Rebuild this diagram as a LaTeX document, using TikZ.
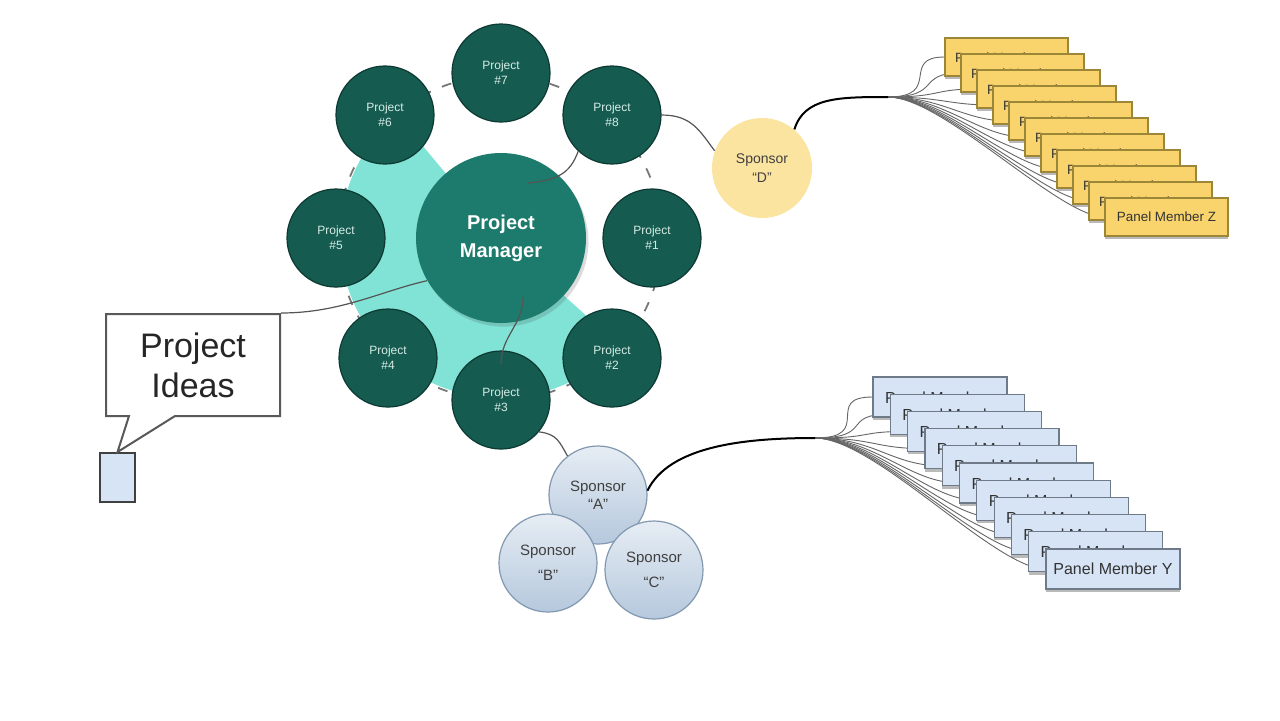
\documentclass[tikz,border=0pt]{standalone}
\usepackage{fontspec}
\setmainfont{Liberation Sans}
\usetikzlibrary{shapes.callouts, shadows}

\definecolor{projdark}{HTML}{155B50}
\definecolor{projedge}{HTML}{0C3A33}
\definecolor{pmteal}{HTML}{1C7B6C}
\definecolor{lightteal}{HTML}{80E3D5}
\definecolor{mint}{HTML}{D6ECE6}
\definecolor{sponsoryellow}{HTML}{FBE3A0}
\definecolor{boxyellow}{HTML}{F9D46C}
\definecolor{boxyedge}{HTML}{9C8637}
\definecolor{boxblue}{HTML}{D6E4F5}
\definecolor{boxbedge}{HTML}{6E7A88}
\definecolor{sponsortop}{HTML}{E6EDF4}
\definecolor{sponsorbot}{HTML}{B5C8DD}
\definecolor{sponsoredge}{HTML}{8298B0}
\definecolor{wire}{HTML}{555555}

\pgfdeclarelayer{background}
\pgfsetlayers{background,main}

\begin{document}
\begin{tikzpicture}[x=0.5pt, y=-0.5pt,
		project/.style={circle, draw=projedge, line width=0.6pt, fill=projdark, minimum size=49pt, inner sep=0pt,
			text=mint, font=\fontsize{6}{7.5}\selectfont, align=center},
		manager/.style={circle, fill=pmteal, minimum size=85pt, inner sep=0pt, text=white, align=center,
			font=\bfseries\fontsize{10}{14}\selectfont,
			drop shadow={shadow xshift=1.2pt, shadow yshift=-1.8pt, opacity=0.2, fill=black!70}},
		sponsor/.style={circle, draw=sponsoredge, line width=0.6pt, top color=sponsortop, bottom color=sponsorbot,
			minimum size=49pt, inner sep=0pt, text=black!75, font=\fontsize{7.5}{9}\selectfont, align=center},
		sponsorD/.style={circle, fill=sponsoryellow, minimum size=50pt, inner sep=0pt, text=black!75,
			font=\fontsize{7}{9.5}\selectfont, align=center},
		panelZ/.style={draw=boxyedge, line width=0.6pt, fill=boxyellow, minimum width=61.5pt, minimum height=19pt,
			inner sep=0pt, font=\fontsize{6.7}{8}\selectfont, text=black!80,
			drop shadow={shadow xshift=0pt, shadow yshift=-1.5pt, opacity=0.45, fill=black!60}},
		panelY/.style={draw=boxbedge, line width=0.6pt, fill=boxblue, minimum width=67pt, minimum height=20pt,
			inner sep=0pt, font=\fontsize{8}{9}\selectfont, text=black!80,
			drop shadow={shadow xshift=0pt, shadow yshift=-1.5pt, opacity=0.45, fill=black!60}},
		wireline/.style={draw=wire, line width=0.6pt},
		fanwire/.style={draw=black!60, line width=0.45pt}]
	% Bildbereich
	\useasboundingbox (0,0) rectangle (1280,720);
	\begin{pgfonlayer}{background}
		\fill[white] (0,0) rectangle (1280,720);
	\end{pgfonlayer}
	% Hintergrund Ring
	\fill[lightteal] (500,238) -- +(-130:160) arc[start angle=-130, end angle=-318, radius=160] -- cycle;
	\draw[wire!80, line width=0.9pt, dash pattern=on 5pt off 6pt] (500,238) circle[radius=162];
	% Projektleiter und Projekte
	\node[manager] (pm) at (501,238) {Project\\Manager};
	\foreach \n/\x/\y in {1/652/238, 2/612/358, 3/501/400, 4/388/358, 5/336/238, 6/385/115, 7/501/73, 8/612/115}
		\node[project] (p\n) at (\x,\y) {Project\\\#\n};
	% Sponsoren
	\node[sponsorD] (spD) at (762,168) {Sponsor\\“D”};
	\node[sponsor] (spA) at (598,495) {Sponsor\\“A”};
	\node[sponsor] (spB) at (548,563) {Sponsor\\[3.5pt]“B”};
	\node[sponsor] (spC) at (654,570) {Sponsor\\[3.5pt]“C”};
	% Projektideen
	\node[draw=black!75, line width=1pt, fill=boxblue, minimum width=17.5pt, minimum height=24.5pt, inner sep=0pt]
		(idea) at (117.5,477.5) {};
	\node[rectangle callout, draw=black!65, line width=1pt, fill=white, minimum width=87pt, minimum height=51pt,
		callout absolute pointer={(idea.north)}, callout pointer width=23pt, inner sep=0pt,
		font=\fontsize{17}{20}\selectfont, text=black!85, align=center] (ideas) at (193,365) {Project\\Ideas};
	% Verbindungen
	\draw[wireline] (ideas.north east) .. controls +(60,0) and +(-45,10) .. (pm.210);
	\draw[wireline] (pm.center) ++(27,-55) .. controls +(30,-3) and +(-8,22) .. (p8.227);
	\draw[wireline] (pm.center) ++(22,59) .. controls +(0,28) and +(0,-28) .. ([yshift=18pt]p3.center);
	\draw[wireline] (p8.east) .. controls +(30,0) and +(-15,-20) .. (spD.160);
	\draw[wireline] (p3.-40) .. controls +(18,2) and +(-8,-14) .. (spA.128);
	% Panel Z
	\coordinate (fanD) at (888,97);
	\coordinate (fanA) at (815,438);
	\draw[line width=1pt] (spD.50) .. controls +(10,-32) and +(-50,0) .. (fanD);
	\draw[line width=1pt] (spA.5) .. controls +(22,-45) and +(-70,0) .. (fanA);
	\foreach \i in {0,...,10}{
		\ifnum\i=10 \def\lbl{Panel Member Z}\else\def\lbl{\smash{\raisebox{-2.5pt}{\makebox[51.5pt][l]{Panel Member}}}}\fi
		\node[panelZ] (z\i) at ({1006.5+16*\i},{57+16*\i}) {\lbl};
	}
	% Panel Y
	\foreach \i in {0,...,10}{
		\ifnum\i=10 \def\lbl{Panel Member Y}\else\def\lbl{\smash{\raisebox{-3pt}{\makebox[55pt][l]{Panel Member}}}}\fi
		\node[panelY] (y\i) at ({940+17.3*\i},{397+17.2*\i}) {\lbl};
	}
	\begin{pgfonlayer}{background}
		\foreach \i in {0,...,10}{
			\draw[fanwire] (fanD) .. controls +(55,0) and +(-45,0) .. (z\i.west);
			\draw[fanwire] (fanA) .. controls +(60,0) and +(-50,0) .. (y\i.west);
		}
	\end{pgfonlayer}
\end{tikzpicture}
\end{document}
